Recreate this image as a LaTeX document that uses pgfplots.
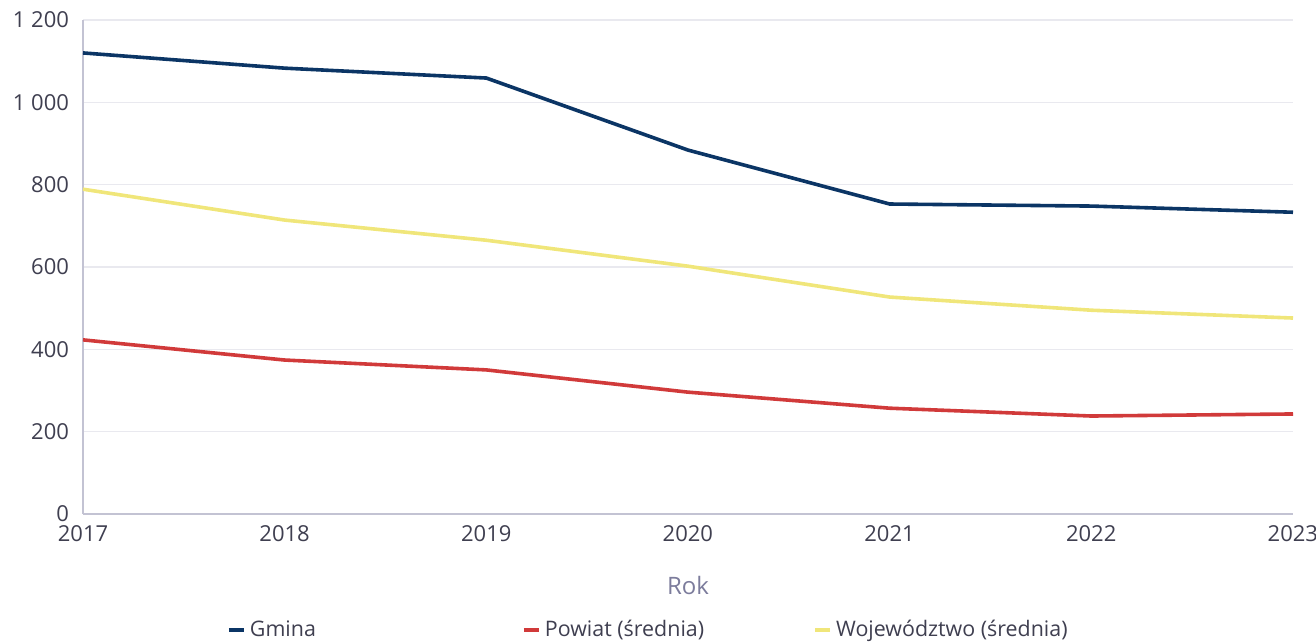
\documentclass[border=0pt]{standalone}
\usepackage{fontspec}
\setmainfont{Open Sans}
\usepackage{pgfplots}
\pgfplotsset{compat=1.18}
\definecolor{gmina}{HTML}{0B3565}
\definecolor{powiat}{HTML}{D13A3A}
\definecolor{woj}{HTML}{F0E67A}
\definecolor{ticktxt}{HTML}{3F3F50}
\definecolor{axln}{HTML}{C3C3D3}
\definecolor{gridc}{HTML}{E9E9EF}
\definecolor{labc}{HTML}{7C7C9C}
\begin{document}
\begin{tikzpicture}
\useasboundingbox (-41.5pt,-64pt) rectangle (616.5pt,257pt);
\begin{axis}[
  at={(0,0)}, anchor=south west,
  scale only axis, width=605pt, height=247pt,
  xmin=2017, xmax=2023, ymin=0, ymax=1200,
  xtick={2017,...,2023}, ytick={0,200,...,1200},
  axis x line*=bottom, axis y line*=left,
  axis line style={axln, line width=0.9pt},
  x axis line style={-}, y axis line style={-},
  tick style={draw=none},
  ymajorgrids, grid style={gridc, line width=0.8pt},
  font=\fontsize{11pt}{13pt}\selectfont,
  tick label style={ticktxt, font=\fontsize{11pt}{13pt}\selectfont},
  /pgf/number format/assume math mode=true,
  y tick label style={/pgf/number format/1000 sep={~}, xshift=-3.5pt},
  x tick label style={/pgf/number format/1000 sep={}, yshift=-2pt},
  xlabel={Rok}, xlabel style={labc, font=\fontsize{12pt}{14pt}\selectfont, yshift=-10.5pt},
  legend columns=3,
  legend style={draw=none, at={(0.468,-0.235)}, anchor=center, font=\fontsize{10.7pt}{13pt}\selectfont, text=ticktxt},
  legend image code/.code={\draw[#1, line width=2pt] (0pt,0pt) -- (7.5pt,0pt);},
  clip=false,
]
\addplot[gmina, line width=1.8pt] coordinates {(2017,1120) (2018,1083) (2019,1059) (2020,884) (2021,753) (2022,748) (2023,733)};
\addlegendentry{Gmina\hspace*{101pt}}
\addplot[powiat, line width=1.8pt] coordinates {(2017,423) (2018,374) (2019,350) (2020,296) (2021,257) (2022,238) (2023,243)};
\addlegendentry{Powiat (średnia)\hspace*{52.5pt}}
\addplot[woj, line width=1.8pt] coordinates {(2017,789) (2018,714) (2019,665) (2020,602) (2021,527) (2022,495) (2023,476)};
\addlegendentry{Województwo (średnia)}
\end{axis}
\end{tikzpicture}
\end{document}
